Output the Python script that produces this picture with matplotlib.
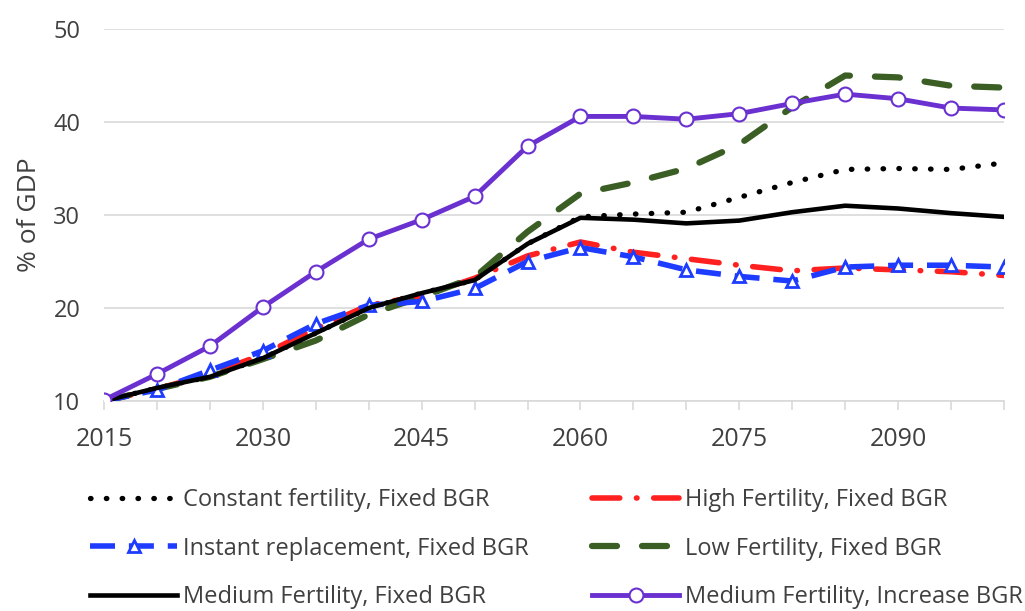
import matplotlib
matplotlib.use("Agg")
import matplotlib.pyplot as plt

years = list(range(2015, 2101, 5))

constant_fixed = [10.0, 11.4, 12.6, 14.6, 17.3, 20.0, 21.6, 23.0, 26.9, 29.8, 30.1, 30.3, 31.9, 33.5, 34.9, 35.0, 34.9, 35.6]
high_fixed = [10.0, 11.3, 12.9, 15.0, 17.8, 20.3, 21.3, 23.2, 25.6, 27.1, 26.0, 25.3, 24.6, 24.0, 24.3, 24.1, 23.9, 23.5]
instant_fixed = [10.0, 11.2, 13.3, 15.4, 18.3, 20.3, 20.7, 22.1, 25.0, 26.5, 25.5, 24.1, 23.4, 22.9, 24.4, 24.6, 24.6, 24.4]
low_fixed = [10.0, 11.3, 12.6, 14.5, 16.5, 19.3, 21.2, 23.3, 28.2, 32.3, 33.5, 35.0, 37.6, 41.6, 45.0, 44.8, 43.9, 43.7]
medium_fixed = [10.0, 11.4, 12.6, 14.6, 17.3, 20.0, 21.6, 23.0, 26.9, 29.7, 29.5, 29.1, 29.4, 30.3, 31.0, 30.7, 30.2, 29.8]
medium_increase = [10.1, 12.9, 15.9, 20.1, 23.9, 27.4, 29.5, 32.0, 37.4, 40.6, 40.6, 40.3, 40.9, 42.0, 43.0, 42.5, 41.5, 41.3]

labels = ["Constant fertility, Fixed BGR", "High Fertility, Fixed BGR",
          "Instant replacement, Fixed BGR", "Low Fertility, Fixed BGR",
          "Medium Fertility, Fixed BGR", "Medium Fertility, Increase BGR"]
y_ticks = [10, 20, 30, 40, 50]
x_label_years = [2015, 2030, 2045, 2060, 2075, 2090]

plt.rcParams['font.family'] = ['Open Sans', 'DejaVu Sans']

fig = plt.figure(figsize=(10.25, 6.11), dpi=100)
ax = fig.add_axes([0.1015, 0.3437, 0.878, 0.6088])

purple = '#6A30D0'
blue = '#1E3CFF'
red = '#FF2020'
green = '#3A5E24'
txt = '#404040'

l1, = ax.plot(years, constant_fixed, color='black', lw=3.8, linestyle=(0, (0.1, 2.9)),
              dash_capstyle='round', label=labels[0], zorder=3)
l2, = ax.plot(years, high_fixed, color=red, lw=4, linestyle=(0, (5, 3, 0.1, 3)),
              dash_capstyle='round', label=labels[1], zorder=3)
l3, = ax.plot(years, instant_fixed, color=blue, lw=4, linestyle=(0, (4.5, 2.5)),
              marker='^', markersize=9, markerfacecolor='white', markeredgecolor=blue,
              markeredgewidth=2, label=labels[2], zorder=4)
l4, = ax.plot(years, low_fixed, color=green, lw=4.5, linestyle=(0, (4, 4)),
              dash_capstyle='round', label=labels[3], zorder=3)
l5, = ax.plot(years, medium_fixed, color='black', lw=3.3, label=labels[4], zorder=5)
l6, = ax.plot(years, medium_increase, color=purple, lw=3.5, marker='o', markersize=10,
              markerfacecolor='white', markeredgecolor=purple, markeredgewidth=1.5,
              label=labels[5], zorder=6)

ax.set_xlim(2015, 2100)
ax.set_ylim(10, 50)
ax.set_yticks(y_ticks)
ax.set_xticks(years)
ax.set_xticklabels([str(y) if y in x_label_years else '' for y in years])
ax.yaxis.grid(True, color='#d9d9d9', lw=1.2)
ax.set_axisbelow(True)
for s in ['top', 'right', 'left']:
    ax.spines[s].set_visible(False)
ax.spines['bottom'].set_color('#d9d9d9')
ax.spines['bottom'].set_linewidth(1.2)
ax.tick_params(axis='x', length=6.5, color='#d9d9d9', width=1.2, labelsize=18, pad=12,
               labelcolor=txt)
ax.tick_params(axis='y', length=0, labelsize=17, pad=17, labelcolor=txt)
ax.set_ylabel('% of GDP', fontsize=19, color=txt)
ax.yaxis.set_label_coords(-0.069, 0.5)

common = dict(loc='upper left', frameon=False, fontsize=17, handlelength=3.7,
              labelspacing=1.03, handletextpad=0.25, borderpad=0, borderaxespad=0,
              labelcolor=txt)
leg1 = fig.legend(handles=[l1, l3, l5], labels=[labels[0], labels[2], labels[4]],
                  bbox_to_anchor=(0.0878, 0.201), **common)
leg2 = fig.legend(handles=[l2, l4, l6], labels=[labels[1], labels[3], labels[5]],
                  bbox_to_anchor=(0.5776, 0.201), **common)

fig.savefig('out.png', dpi=100)
